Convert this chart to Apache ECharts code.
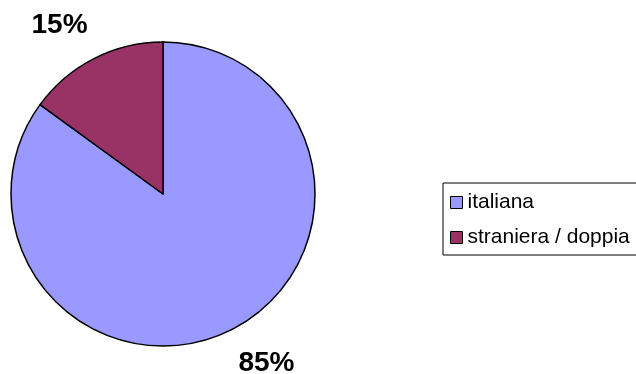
<!DOCTYPE html>
<html>
<head>
<meta charset="utf-8">
<style>
  html, body { margin: 0; padding: 0; background: #fff; }
  #chart { width: 636px; height: 374px; }
</style>
<script src="https://cdn.jsdelivr.net/npm/echarts@6/dist/echarts.min.js"></script>
</head>
<body>
<div id="chart"></div>
<script>
// dati
var categories = ['italiana', 'straniera / doppia'];
var values = [85, 15];
var colors = ['#9999FF', '#993366'];

var CX = 163, CY = 194, R = 152;
var total = values.reduce(function(a, b) { return a + b; }, 0);

// angolo medio di ogni fetta (orario, partendo da 90 gradi)
function midAngle(idx) {
  var acc = 0;
  for (var i = 0; i < idx; i++) acc += values[i];
  return 90 - (acc + values[idx] / 2) / total * 360;
}

var chart = echarts.init(document.getElementById('chart'));
var option = {
  animation: false,
  textStyle: { fontFamily: 'Liberation Sans, Arial, sans-serif' },
  legend: {
    orient: 'vertical',
    left: 443,
    top: 183,
    padding: [9, 30, 7, 7],
    itemGap: 14,
    itemWidth: 12,
    itemHeight: 12,
    icon: 'rect',
    borderColor: '#000',
    borderWidth: 1,
    itemStyle: { borderColor: '#000', borderWidth: 1 },
    textStyle: { fontSize: 21, color: '#000', fontFamily: 'Liberation Sans, Arial, sans-serif' },
    data: categories
  },
  series: [{
    type: 'pie',
    center: [CX, CY],
    radius: R,
    startAngle: 90,
    clockwise: true,
    silent: true,
    itemStyle: { borderColor: '#000', borderWidth: 1.5 },
    label: {
      show: true,
      position: 'outside',
      overflow: 'none',
      formatter: function(p) { return p.value + '%'; },
      fontSize: 28,
      fontWeight: 'bold',
      color: '#000',
      fontFamily: 'Liberation Sans, Arial, sans-serif'
    },
    labelLine: { show: false },
    labelLayout: function(p) {
      var a = (midAngle(p.dataIndex) + 4.5) * Math.PI / 180;
      var d = R + 46;
      return {
        x: CX + d * Math.cos(a),
        y: CY - d * Math.sin(a),
        align: 'center',
        verticalAlign: 'middle'
      };
    },
    data: categories.map(function(c, i) {
      return { name: c, value: values[i], itemStyle: { color: colors[i] } };
    })
  }]
};
chart.setOption(option);
</script>
</body>
</html>
